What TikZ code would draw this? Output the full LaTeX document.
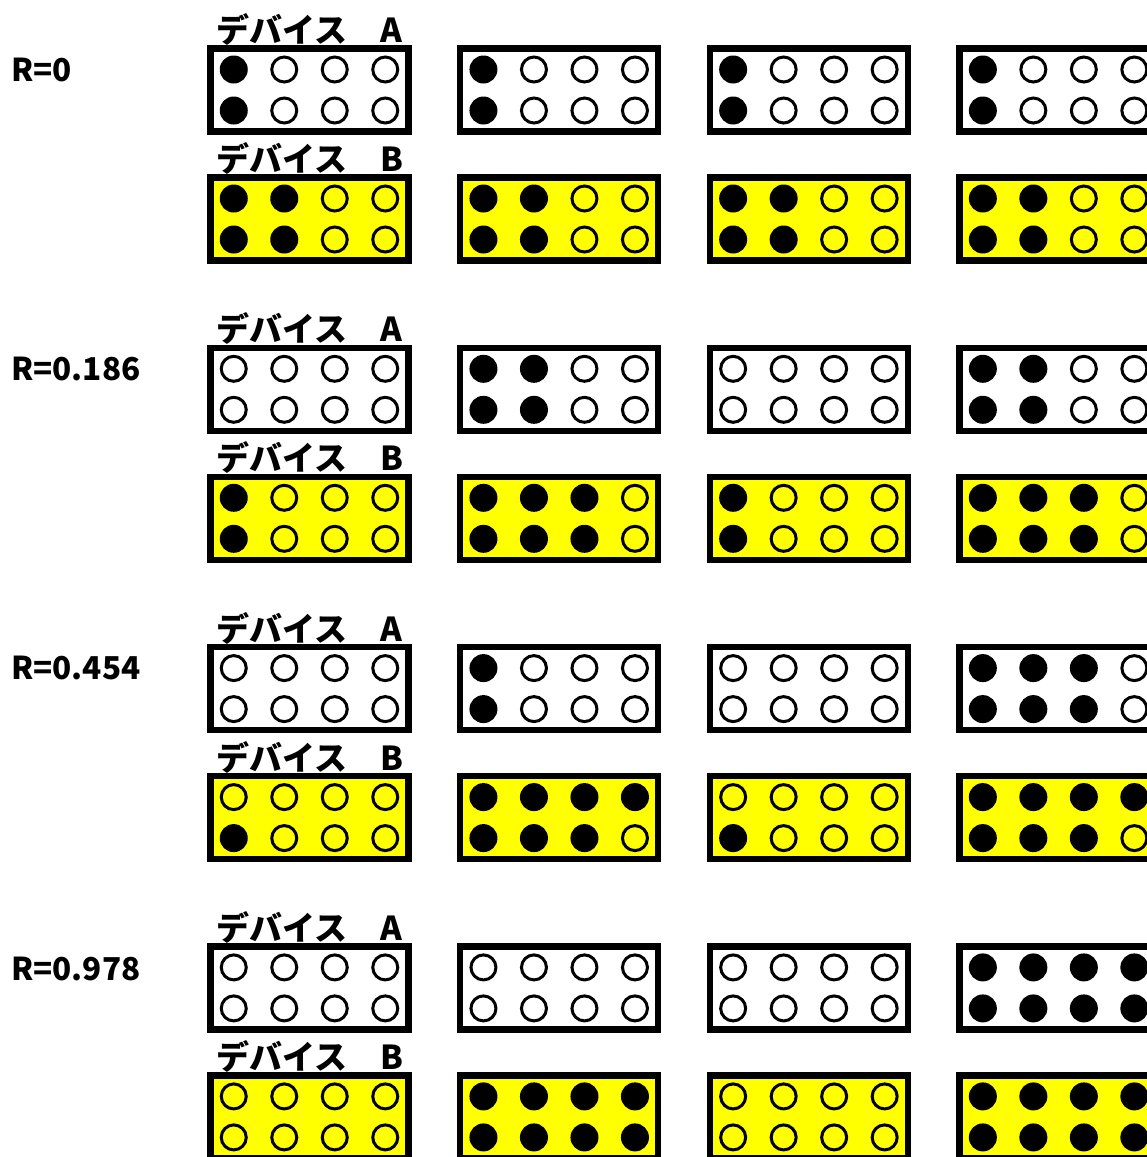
\documentclass[tikz,border=0pt]{standalone}
\usepackage{fontspec}
\setmainfont{Noto Sans CJK JP}
\usetikzlibrary{positioning}

\definecolor{pegyellow}{RGB}{255,255,0}

% one board: 2 rows of 4 pegs, #2/#3 = filled pegs in top/bottom row
\newcommand\pegs[3]{%
  \foreach \k in {1,...,4}{%
    \pgfmathsetmacro\px{50.5*\k-126.25}%
    \ifnum\k>#2 \draw[pegoff] ([shift={(\px,-20.5)}]#1.center) circle[radius=12.5];
    \else \fill[pegon] ([shift={(\px,-20.5)}]#1.center) circle[radius=14];\fi
    \ifnum\k>#3 \draw[pegoff] ([shift={(\px,20.5)}]#1.center) circle[radius=12.5];
    \else \fill[pegon] ([shift={(\px,20.5)}]#1.center) circle[radius=14];\fi
  }}

\begin{document}
\begin{tikzpicture}[
  x=1pt,y=-1pt,
  font=\fontsize{33}{36}\selectfont\bfseries,
  dev/.style={draw,line width=6.5pt,minimum width=198pt,minimum height=83pt,inner sep=0pt,outer sep=0pt},
  devA/.style={dev,fill=white},
  devB/.style={dev,fill=pegyellow},
  tag/.style={inner sep=0pt,outer sep=0pt},
  rlabel/.style={anchor=west,inner sep=0pt,font=\fontsize{31.5}{34}\selectfont\bfseries},
  pegon/.style={fill=black},
  pegoff/.style={draw=black,line width=3pt}
]
\useasboundingbox (0,0) rectangle (1147,1157);
\clip (0,0) rectangle (1147,1157);

% row / column / A top / A bottom / B top / B bottom
\foreach \r/\c/\at/\ab/\bt/\bb in {
  1/1/1/1/2/2, 1/2/1/1/2/2, 1/3/1/1/2/2, 1/4/1/1/2/2,
  2/1/0/0/1/1, 2/2/2/2/3/3, 2/3/0/0/1/1, 2/4/2/2/3/3,
  3/1/0/0/0/1, 3/2/1/1/4/3, 3/3/0/0/0/1, 3/4/3/3/4/3,
  4/1/0/0/0/0, 4/2/0/0/4/4, 4/3/0/0/0/0, 4/4/4/4/4/4}{
  \node[devA] (a\r\c) at ({309.5+249.7*(\c-1)},{90+299.3*(\r-1)}) {};
  \node[devB,below=46pt of a\r\c] (b\r\c) {};
  \pegs{a\r\c}{\at}{\ab}
  \pegs{b\r\c}{\bt}{\bb}
}

\foreach \r in {1,...,4}{
  \node[tag,above=3pt of a\r1] (ta\r) {デバイス　A};
  \node[tag,above=3pt of b\r1] (tb\r) {デバイス　B};
}

\node[rlabel] (r1) at (11,70) {R=0};
\node[rlabel] (r2) at (11,369) {R=0.186};
\node[rlabel] (r3) at (11,668) {R=0.454};
\node[rlabel] (r4) at (11,969) {R=0.978};
\end{tikzpicture}
\end{document}
